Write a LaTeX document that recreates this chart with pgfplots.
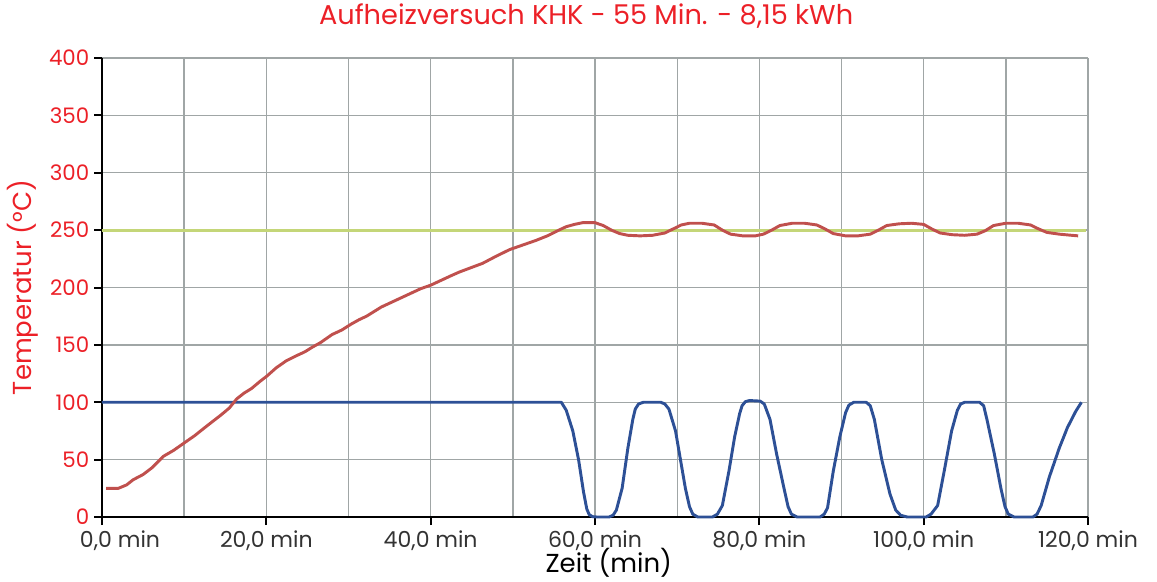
\documentclass[border=0pt]{standalone}
\usepackage{fontspec}
\setmainfont{Poppins}
\usepackage{pgfplots}
\pgfplotsset{compat=1.18}
\definecolor{tred}{RGB}{236,32,39}
\definecolor{cred}{RGB}{192,80,77}
\definecolor{cblue}{RGB}{45,80,150}
\definecolor{cgreen}{RGB}{196,214,120}
\definecolor{gridc}{RGB}{160,166,166}
\begin{document}
\begin{tikzpicture}
\useasboundingbox (-76.5pt,-48.75pt) rectangle (791.25pt,387.75pt);
\begin{axis}[
  at={(0,0)}, anchor=south west,
  scale only axis, width=739.5pt, height=344.25pt,
  xmin=0, xmax=120, ymin=0, ymax=400,
  axis x line=bottom, axis y line=left,
  axis line style={-, black, line width=2pt},
  xtick={0,20,...,120},
  xticklabels={{\hspace*{27pt}0,0 min},{20,0 min},{40,0 min},{60,0 min},{80,0 min},{100,0 min},{120,0 min}},
  minor xtick={10,30,...,110},
  ytick={0,50,...,400},
  grid=both,
  major grid style={gridc, line width=1pt},
  minor grid style={gridc, line width=1pt},
  tick align=outside,
  major tick length=6pt,
  minor tick length=0pt,
  tick style={black, line width=1.5pt},
  /pgf/number format/assume math mode=true,
  xticklabel style={font=\fontsize{16.5}{18}\selectfont, color=black!80, anchor=center, yshift=-12pt},
  yticklabel style={font=\fontsize{16}{18}\selectfont, color=tred},
  title={Aufheizversuch KHK - 55 Min. - 8,15 kWh},
  title style={font=\fontsize{20.4}{22}\selectfont, color=tred, at={(axis description cs:0.491,1)}, anchor=center, yshift=25.5pt},
  xlabel={Zeit (min)},
  xlabel style={font=\fontsize{19.5}{21}\selectfont, color=black, at={(axis description cs:0.514,0)}, anchor=center, yshift=-34pt},
  ylabel={Temperatur (°C)},
  ylabel style={font=\fontsize{19.5}{21}\selectfont, color=tred, at={(axis description cs:-0.080,0.5)}, anchor=center},
  clip=false,
]
\addplot[cgreen, line width=2.4pt] coordinates {(0,250) (119.7,250)};
\addplot[cblue, line width=2.2pt, line join=round] coordinates {
(0,100) (55.9,100) (56.5,93) (57.3,75) (58.0,50) (58.6,22) (59.0,7) (59.3,2) (59.7,0.3) (60.2,0)
(61.7,0) (62.2,1.5) (62.6,6) (63.3,25) (64.0,60) (64.6,85) (64.9,94) (65.3,98.5) (65.9,100)
(68.0,100) (68.5,98.5) (69.0,94) (69.8,75) (70.4,50) (71.0,25) (71.5,9) (71.9,2.5) (72.5,0)
(74.3,0) (74.9,2.5) (75.5,10) (76.3,40) (77.0,70) (77.6,90) (77.9,97) (78.3,100.5) (78.8,101.5)
(80.1,101) (80.6,98.5) (81.3,85) (82.1,55) (83.0,25) (83.5,9) (83.9,2.5) (84.6,0)
(87.4,0) (87.9,2.5) (88.3,8) (89.0,40) (89.8,70) (90.5,91) (90.9,97.5) (91.5,100)
(93.0,100) (93.5,97) (94.0,85) (94.9,50) (95.9,20) (96.6,6) (97.2,1.5) (98.0,0)
(100.3,0) (100.9,2.5) (101.7,10) (102.5,40) (103.4,75) (104.1,93) (104.5,98.5) (105.0,100)
(106.8,100) (107.3,97) (107.7,85) (108.6,55) (109.4,25) (109.9,9) (110.3,2.5) (111.0,0)
(113.3,0) (113.8,2.5) (114.3,10) (115.3,35) (116.5,60) (117.5,78) (118.5,92) (119.2,100)
};
\addplot[cred, line width=2.2pt, line join=round] coordinates {
(0.5,25) (2,25) (3,28) (3.8,32.5) (5,37) (6.1,43) (7.5,53) (8.7,58) (9.9,64)
(11.3,71) (12.7,79) (14.5,89) (15.5,95) (16.4,103) (17.3,108) (18.2,112)
(19.2,118) (20.1,123) (21.2,130) (22.4,136) (23.5,140) (24.7,144) (25.6,148)
(26.6,152) (28,159) (29.2,163) (30.3,168) (31.3,172) (32.2,175) (33.1,179)
(34,183) (35.2,187) (36.4,191) (37.6,195) (38.8,199) (40,202) (41.2,206)
(42.4,210) (43.5,213.5) (44.8,217) (46.3,221) (47.9,227) (49.6,233) (51.2,237)
(52.8,241) (54.2,245) (55.6,250) (56.5,253) (57.5,255) (58.5,256.5) (60,256.5)
(61,254) (62,250) (63,247) (64,245.5) (65.5,245) (67,245.5) (68.5,247.5)
(69.5,251) (70.5,254.5) (71.5,256) (73,256) (74.5,254.5) (75.5,250) (76.5,246.5)
(78,245) (79.5,245) (80.5,246.5) (81.5,250) (82.5,254) (84,256) (85.5,256)
(87,254.5) (88,251) (89,247) (90.5,245) (92,245) (93.5,246.5) (94.5,250)
(95.5,254) (97,255.5) (98.5,256) (100,255) (101,251) (102,247.5) (103.5,246)
(105,245.5) (106.5,246.5) (107.5,249.5) (108.5,254) (110,256) (111.5,256)
(113,254.5) (114,251) (115,248) (116.5,246.5) (118,245.5) (118.8,245)
};
\end{axis}
\end{tikzpicture}
\end{document}
